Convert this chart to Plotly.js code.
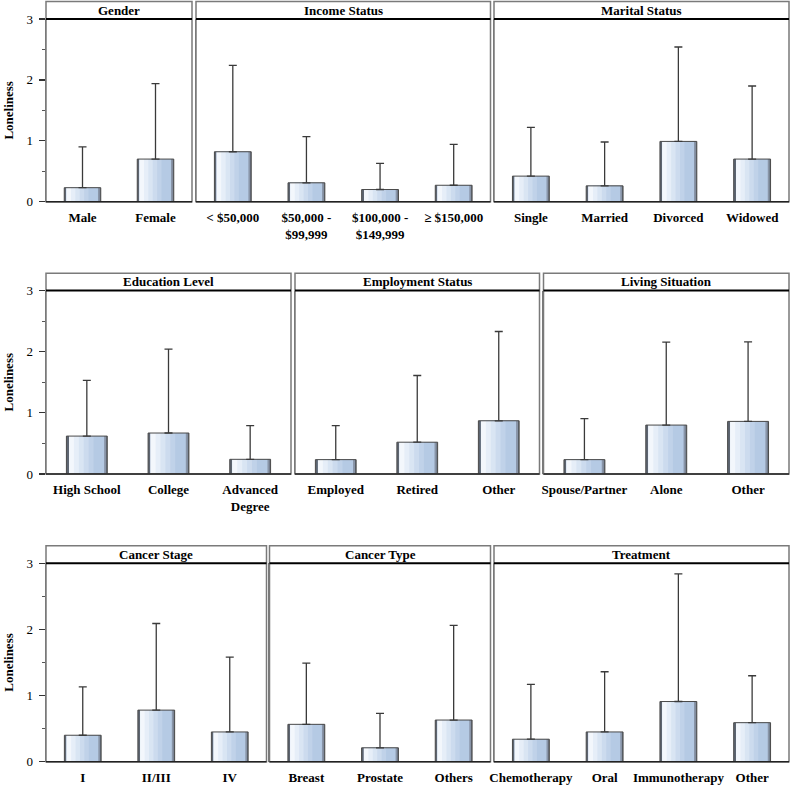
<!DOCTYPE html>
<html>
<head>
<meta charset="utf-8">
<script src="https://cdn.plot.ly/plotly-3.0.1.min.js"></script>
<style>html,body{margin:0;padding:0;background:#fff;}#chart{width:790px;height:785px;}</style>
</head>
<body>
<div id="chart"></div>
<script>
// ---------- DATA ----------
const genderCats = ['Male', 'Female'];
const genderMean = [0.23, 0.70];
const genderSD   = [0.67, 1.24];

const incomeCats = ['&lt; $50,000', '$50,000 -<br>$99,999', '$100,000 -<br>$149,999', '≥ $150,000'];
const incomeMean = [0.82, 0.31, 0.20, 0.27];
const incomeSD   = [1.42, 0.76, 0.43, 0.67];

const maritalCats = ['Single', 'Married', 'Divorced', 'Widowed'];
const maritalMean = [0.42, 0.26, 0.99, 0.70];
const maritalSD   = [0.80, 0.72, 1.55, 1.20];

const educationCats = ['High School', 'College', 'Advanced<br>Degree'];
const educationMean = [0.62, 0.67, 0.24];
const educationSD   = [0.91, 1.37, 0.55];

const employmentCats = ['Employed', 'Retired', 'Other'];
const employmentMean = [0.235, 0.52, 0.87];
const employmentSD   = [0.555, 1.09, 1.46];

const livingCats = ['Spouse/Partner', 'Alone', 'Other'];
const livingMean = [0.235, 0.80, 0.86];
const livingSD   = [0.67, 1.355, 1.30];

const stageCats = ['I', 'II/III', 'IV'];
const stageMean = [0.40, 0.78, 0.45];
const stageSD   = [0.73, 1.31, 1.13];

const typeCats = ['Breast', 'Prostate', 'Others'];
const typeMean = [0.565, 0.21, 0.63];
const typeSD   = [0.925, 0.52, 1.43];

const treatmentCats = ['Chemotherapy', 'Oral', 'Immunotherapy', 'Other'];
const treatmentMean = [0.34, 0.45, 0.91, 0.59];
const treatmentSD   = [0.83, 0.91, 1.93, 0.71];

const panelTitles = ['Gender', 'Income Status', 'Marital Status',
                     'Education Level', 'Employment Status', 'Living Situation',
                     'Cancer Stage', 'Cancer Type', 'Treatment'];
const yTitle = 'Loneliness';
const yTickVals = [0, 1, 2, 3];
const yMinorVals = [0.5, 1.5, 2.5];

// ---------- LAYOUT CONSTANTS ----------
const W = 790, H = 785;
const FONT = 'Liberation Serif, Times New Roman, Times, serif';
const FS = 13;
const rows = [
  {stripTop: 1.5,   top: 19,    bottom: 201.7},
  {stripTop: 273.3, top: 290.5, bottom: 474},
  {stripTop: 545.7, top: 563.3, bottom: 761.7}
];
const panelPx = [[46,192],[196,490.5],[494,789],
                 [46,291],[295,539.5],[543.5,789],
                 [46,266.5],[269.5,490.5],[494,789]];

const panels = [
  [genderCats, genderMean, genderSD],
  [incomeCats, incomeMean, incomeSD],
  [maritalCats, maritalMean, maritalSD],
  [educationCats, educationMean, educationSD],
  [employmentCats, employmentMean, employmentSD],
  [livingCats, livingMean, livingSD],
  [stageCats, stageMean, stageSD],
  [typeCats, typeMean, typeSD],
  [treatmentCats, treatmentMean, treatmentSD]
];

// gradient layers (offset / width in category units)
const layers = [
  {off: -0.25,  w: 0.50,  c: '#5d6571'},
  {off: -0.218, w: 0.455, c: '#8995a8'},
  {off: -0.218, w: 0.43,  c: '#b5cae4'},
  {off: -0.218, w: 0.30,  c: '#c0d2e9'},
  {off: -0.218, w: 0.24,  c: '#ccdbee'},
  {off: -0.218, w: 0.18,  c: '#d9e5f3'},
  {off: -0.218, w: 0.12,  c: '#e6eef8'},
  {off: -0.218, w: 0.06,  c: '#f3f7fc'}
];

const traces = [];
const layout = {
  width: W, height: H,
  margin: {l: 0, r: 0, t: 0, b: 0},
  paper_bgcolor: '#fff', plot_bgcolor: '#fff',
  showlegend: false,
  barmode: 'overlay',
  font: {family: FONT, size: FS, color: '#000'},
  shapes: [], annotations: []
};

const px = v => v / W;
const py = v => 1 - v / H;

panels.forEach((p, i) => {
  const [cats, mean, sd] = p;
  const n = i + 1;
  const xa = 'x' + (n === 1 ? '' : n), ya = 'y' + (n === 1 ? '' : n);
  const row = rows[Math.floor(i / 3)];
  const [x0, x1] = panelPx[i];
  const first = i % 3 === 0;

  layers.forEach(L => {
    traces.push({
      type: 'bar', x: cats, y: mean, xaxis: xa, yaxis: ya,
      offset: L.off, width: L.w,
      marker: {color: L.c, line: {width: 0}},
      hoverinfo: 'skip'
    });
  });
  traces.push({
    type: 'bar', x: cats, y: mean, xaxis: xa, yaxis: ya,
    offset: -0.25, width: 0.5,
    marker: {color: 'rgba(0,0,0,0)', line: {color: '#4a4a4a', width: 1}},
    error_y: {type: 'data', symmetric: false, array: sd, arrayminus: sd.map(() => 0),
              color: '#3a3a3a', thickness: 1.3, width: 4},
    hoverinfo: 'skip'
  });

  layout['xaxis' + (n === 1 ? '' : n)] = {
    domain: [px(x0), px(x1)], anchor: ya, type: 'category',
    range: [-0.5, cats.length - 0.5], fixedrange: true,
    showgrid: false, zeroline: false, showline: false, ticks: '',
    ticklabelstandoff: 6,
    tickfont: {family: FONT, size: FS, weight: 'bold', color: '#000'}
  };
  const yax = {
    domain: [py(row.bottom), py(row.top)], anchor: xa,
    range: [0, 3], fixedrange: true, showgrid: false, zeroline: false,
    showline: true, linecolor: '#7a7a7a', linewidth: 1.5
  };
  if (first) {
    Object.assign(yax, {
      tickmode: 'array', tickvals: yTickVals, ticks: 'outside', ticklen: 6,
      tickcolor: '#333', tickwidth: 1.2, ticklabelstandoff: 3,
      tickfont: {family: FONT, size: FS, color: '#000'},
      minor: {tickmode: 'array', tickvals: yMinorVals, ticks: 'outside', ticklen: 3, tickcolor: '#555', tickwidth: 1},
      title: {text: yTitle, standoff: 10, font: {family: FONT, size: FS, weight: 'bold', color: '#000'}}
    });
  } else {
    Object.assign(yax, {showticklabels: false, ticks: ''});
  }
  layout['yaxis' + (n === 1 ? '' : n)] = yax;

  // panel frame
  layout.shapes.push({type: 'rect', xref: 'paper', yref: 'paper',
    x0: px(x0), x1: px(x1), y0: py(row.bottom), y1: py(row.stripTop),
    line: {color: '#7a7a7a', width: 1.5}, fillcolor: 'rgba(0,0,0,0)', layer: 'above'});
  // strip bottom line
  layout.shapes.push({type: 'line', xref: 'paper', yref: 'paper',
    x0: px(x0), x1: px(x1), y0: py(row.top), y1: py(row.top),
    line: {color: '#000', width: 2}, layer: 'above'});
  // baseline
  layout.shapes.push({type: 'line', xref: 'paper', yref: 'paper',
    x0: px(x0), x1: px(x1), y0: py(row.bottom), y1: py(row.bottom),
    line: {color: '#222', width: 1.5}, layer: 'above'});
  // strip title
  layout.annotations.push({xref: 'paper', yref: 'paper',
    x: px((x0 + x1) / 2), y: py((row.stripTop + row.top) / 2),
    xanchor: 'center', yanchor: 'middle', showarrow: false,
    text: panelTitles[i],
    font: {family: FONT, size: FS, weight: 'bold', color: '#000'}});
});

Plotly.newPlot('chart', traces, layout, {displayModeBar: false, staticPlot: true});
</script>
</body>
</html>
